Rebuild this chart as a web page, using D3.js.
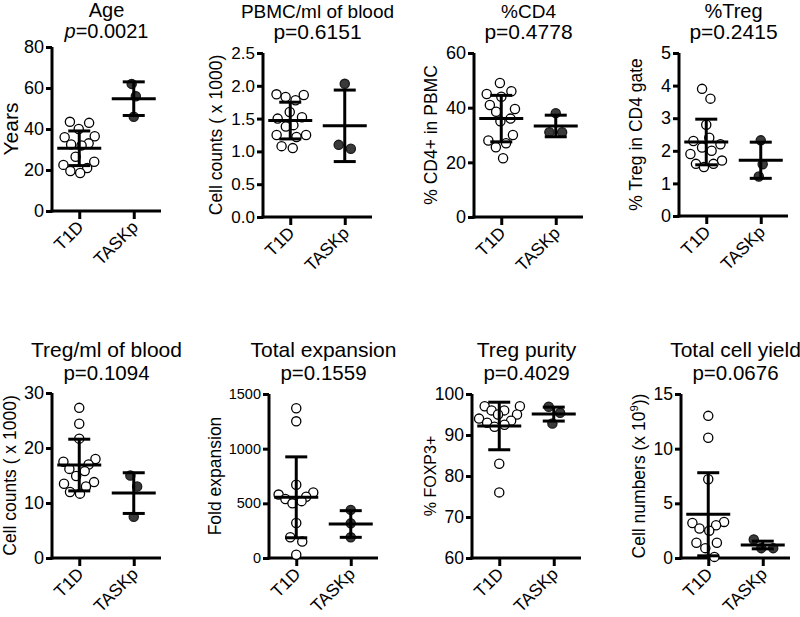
<!DOCTYPE html>
<html><head><meta charset="utf-8">
<script src="https://cdn.jsdelivr.net/npm/d3@7"></script>
<style>body{margin:0;background:#fff} svg{display:block} text{font-family:"Liberation Sans",Arial,Helvetica,sans-serif;fill:#000}</style>
</head><body>
<svg id="c" width="800" height="617"></svg>
<script>
// ---------- data ----------
const categories = ["T1D", "TASKp"];
const titles = ["Age", "PBMC/ml of blood", "%CD4", "%Treg", "Treg/ml of blood", "Total expansion", "Treg purity", "Total cell yield"];
const pValues = ["0.0021", "0.6151", "0.4778", "0.2415", "0.1094", "0.1559", "0.4029", "0.0676"];
const yLabels = ["Years", "Cell counts ( x 1000)", "% CD4+ in PBMC", "% Treg in CD4 gate", "Cell counts ( x 1000)", "Fold expansion", "% FOXP3+", "Cell numbers (x 10^9)"];
const yTicks = [[0,20,40,60,80],[0,0.5,1,1.5,2,2.5],[0,20,40,60],[0,1,2,3,4,5],[0,10,20,30],[0,500,1000,1500],[60,70,80,90,100],[0,5,10,15]];
const tickFormats = ["d", ".1f", "d", "d", "d", "d", "d", "d"];

const ageT1D = [43.5, 43, 40, 36.5, 36, 33, 32.5, 32, 26.5, 24, 22.5, 21, 19.5, 18.5];
const ageTASKp = [62, 56, 46];
const pbmcT1D = [1.87, 1.86, 1.83, 1.78, 1.6, 1.52, 1.5, 1.4, 1.38, 1.25, 1.25, 1.22, 1.05, 1.08];
const pbmcTASKp = [2.03, 1.04, 1.1];
const cd4T1D = [49, 46, 45, 44, 41, 39.5, 38.5, 36, 35, 30, 28, 27, 25.5, 21.5];
const cd4TASKp = [38, 31, 31];
const tregT1D = [3.9, 3.6, 2.8, 2.4, 2.3, 2.2, 2.1, 2.0, 1.9, 1.7, 1.6, 1.6, 1.5];
const tregTASKp = [2.32, 1.59, 1.21];
const tregBloodT1D = [27.3, 24.4, 21.7, 18, 17.5, 17, 16.2, 15.8, 14.9, 13.8, 13.5, 13, 12, 11.7];
const tregBloodTASKp = [15, 13, 7.5];
const expansionT1D = [1370, 1250, 670, 600, 580, 560, 540, 520, 500, 320, 190, 150, 30];
const expansionTASKp = [440, 317, 189];
const purityT1D = [97, 97, 96, 96, 95, 95, 94, 93.5, 93, 92.5, 92, 83, 76];
const purityTASKp = [96.9, 95.4, 92.8];
const yieldT1D = [13, 11, 7.2, 3.3, 3.2, 3.0, 2.7, 2.5, 1.4, 1.4, 0.9, 0.1];
const yieldTASKp = [1.7, 0.9, 0.9];

const meanT1D = [30.6, 1.47, 36, 2.27, 16.9, 555, 92.2, 4.0];
const sdT1D = [8.45, 0.28, 8.5, 0.7, 4.7, 370, 5.8, 3.8];
const meanTASKp = [54.8, 1.39, 33.3, 1.71, 11.8, 311, 95.1, 1.19];
const sdTASKp = [8.2, 0.545, 3.95, 0.555, 3.7, 122, 1.7, 0.35];

const t1dSets = [ageT1D, pbmcT1D, cd4T1D, tregT1D, tregBloodT1D, expansionT1D, purityT1D, yieldT1D];
const taskpSets = [ageTASKp, pbmcTASKp, cd4TASKp, tregTASKp, tregBloodTASKp, expansionTASKp, purityTASKp, yieldTASKp];

// ---------- layout ----------
const layout = [
  {x0: 52,  y0: 47,  y1: 211, lab: 34, labSize: 21, tick: 18, title: 20, pSize: 20, tY: 17, pY: 38},
  {x0: 263, y0: 53,  y1: 217, lab: 41, labSize: 17.5, tick: 17, title: 19, pSize: 21, tY: 18, pY: 39},
  {x0: 474, y0: 53,  y1: 217, lab: 37, labSize: 17.5, tick: 18, title: 19, pSize: 21, tY: 18, pY: 39},
  {x0: 679, y0: 53,  y1: 216, lab: 37, labSize: 17.5, tick: 18, title: 20, pSize: 21, tY: 18, pY: 39},
  {x0: 52,  y0: 393, y1: 558, lab: 36, labSize: 17.5, tick: 18, title: 21, pSize: 20.5, tY: 357, pY: 380},
  {x0: 269, y0: 394, y1: 558, lab: 48, labSize: 17.5, tick: 14.5, title: 21, pSize: 20.5, tY: 357, pY: 380},
  {x0: 472, y0: 394, y1: 558, lab: 36, labSize: 16, tick: 17.5, title: 21, pSize: 20.5, tY: 357, pY: 380},
  {x0: 681, y0: 394, y1: 558, lab: 36, labSize: 17.5, tick: 17.5, title: 21, pSize: 20.5, tY: 357, pY: 380}
];
const W = 109;

const svg = d3.select("#c");

// deterministic relaxation: points repel sideways inside an ellipse, spring back to the column centre
function swarm(values, y, cx) {
  const nodes = values.map((v, i) => ({v, fy: y(v), x: cx + (i % 2 ? 0.05 : -0.05) * (i + 1)}))
    .sort((a, b) => a.fy - b.fy);
  const D = 14, H = 13, p = 0.1, k = 0.5;
  for (let it = 0; it < 400; it++) {
    nodes.forEach(n => { n.x -= p * (n.x - cx); });
    for (let i = 0; i < nodes.length; i++) {
      for (let j = i + 1; j < nodes.length; j++) {
        const a = nodes[i], b = nodes[j];
        const dy = Math.abs(a.fy - b.fy);
        if (dy >= H) continue;
        const need = D * Math.sqrt(1 - (dy / H) ** 2);
        const dx = b.x - a.x;
        if (Math.abs(dx) >= need) continue;
        const s = dx === 0 ? (j % 2 ? 1 : -1) : Math.sign(dx);
        const shift = k * (need - Math.abs(dx)) / 2;
        a.x -= s * shift; b.x += s * shift;
      }
    }
  }
  return nodes;
}

layout.forEach((L, k) => {
  const g = svg.append("g");
  const x = d3.scalePoint().domain(categories).range([L.x0, L.x0 + W]).padding(0.5);
  const ticks = yTicks[k];
  const y = d3.scaleLinear().domain([ticks[0], ticks[ticks.length - 1]]).range([L.y1, L.y0]);

  // y axis
  const ya = g.append("g").attr("transform", `translate(${L.x0},0)`)
    .call(d3.axisLeft(y).tickValues(ticks).tickFormat(d3.format(tickFormats[k])).tickSize(6).tickSizeOuter(0).tickPadding(2));
  ya.select(".domain").attr("stroke-width", 3).attr("d", `M0,${L.y1 + 1.5}V${L.y0}`);
  ya.selectAll(".tick line").attr("stroke-width", 3);
  ya.selectAll(".tick text").attr("font-size", L.tick).attr("font-family", null);

  // x axis
  const xa = g.append("g").attr("transform", `translate(0,${L.y1})`)
    .call(d3.axisBottom(x).tickSize(8).tickSizeOuter(0));
  xa.select(".domain").attr("stroke-width", 3).attr("d", `M${L.x0 - 1.5},0H${L.x0 + W}`);
  xa.selectAll(".tick line").attr("stroke-width", 3);
  xa.selectAll(".tick text")
    .attr("font-size", 17.5).attr("font-family", null)
    .attr("text-anchor", "end").attr("dy", null).attr("y", 0)
    .attr("transform", "translate(5,17) rotate(-45)");

  // titles
  const cxT = L.x0 + W / 2;
  g.append("text").attr("x", cxT).attr("y", L.tY).attr("text-anchor", "middle").attr("font-size", L.title).text(titles[k]);
  const pt = g.append("text").attr("x", cxT).attr("y", L.pY).attr("text-anchor", "middle").attr("font-size", L.pSize);
  pt.append("tspan").attr("font-style", k === 0 ? "italic" : "normal").text("p");
  pt.append("tspan").text("=" + pValues[k]);

  // y label
  const lab = g.append("text")
    .attr("transform", `translate(${L.x0 - L.lab},${(L.y0 + L.y1) / 2}) rotate(-90)`)
    .attr("text-anchor", "middle").attr("font-size", L.labSize);
  const parts = yLabels[k].split("^");
  if (parts.length === 1) lab.text(parts[0]);
  else {
    const rest = parts[1];
    lab.append("tspan").text(parts[0]);
    lab.append("tspan").attr("dy", -7).attr("font-size", L.labSize * 0.65).text(rest[0]);
    lab.append("tspan").attr("dy", 7).text(rest.slice(1) + ")");
  }

  // points, mean and SD
  const sets = [t1dSets[k], taskpSets[k]];
  const means = [meanT1D[k], meanTASKp[k]];
  const sds = [sdT1D[k], sdTASKp[k]];
  sets.forEach((vals, j) => {
    const cx = x(categories[j]);
    const nodes = swarm(vals, y, cx);
    g.append("g").selectAll("circle").data(nodes).join("circle")
      .attr("cx", d => d.x).attr("cy", d => d.fy).attr("r", 4.6)
      .attr("fill", j === 0 ? "#fff" : "#3a3a3a")
      .attr("stroke", j === 0 ? "#000" : "#1a1a1a").attr("stroke-width", 1.3);
    const m = means[j], s = sds[j];
    const lg = g.append("g").attr("stroke", "#000").attr("stroke-width", 3);
    lg.append("line").attr("x1", cx - 22).attr("x2", cx + 22).attr("y1", y(m)).attr("y2", y(m));
    lg.append("line").attr("x1", cx).attr("x2", cx).attr("y1", y(m + s)).attr("y2", y(Math.max(m - s, ticks[0])));
    lg.append("line").attr("x1", cx - 11).attr("x2", cx + 11).attr("y1", y(m + s)).attr("y2", y(m + s));
    if (m - s >= ticks[0]) lg.append("line").attr("x1", cx - 11).attr("x2", cx + 11).attr("y1", y(m - s)).attr("y2", y(m - s));
  });
});
</script>
</body></html>
